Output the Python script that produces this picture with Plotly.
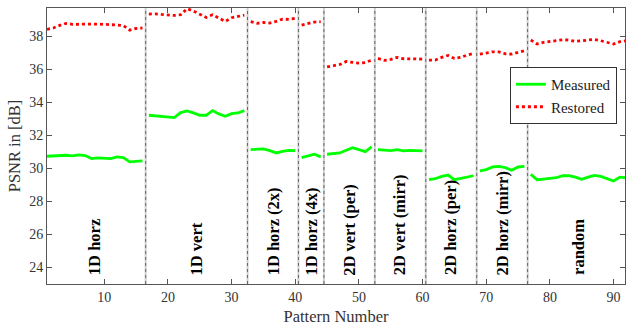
import plotly.graph_objects as go

# Segment definitions
seg_names = ["1D horz", "1D vert", "1D horz (2x)", "1D horz (4x)", "2D vert (per)",
             "2D vert (mirr)", "2D horz (per)", "2D horz (mirr)", "random"]
seg_sizes = [16, 16, 8, 4, 8, 8, 8, 8, 16]

measured = [
    [30.73, 30.75, 30.77, 30.79, 30.75, 30.81, 30.77, 30.59, 30.63, 30.59, 30.59, 30.69, 30.65, 30.39, 30.43, 30.45],
    [33.21, 33.17, 33.15, 33.11, 33.07, 33.37, 33.47, 33.35, 33.21, 33.21, 33.49, 33.29, 33.15, 33.31, 33.35, 33.49],
    [31.13, 31.15, 31.17, 31.07, 30.93, 31.03, 31.09, 31.07],
    [30.65, 30.75, 30.85, 30.69],
    [30.85, 30.89, 30.93, 31.09, 31.25, 31.13, 31.01, 31.29],
    [31.13, 31.09, 31.07, 31.13, 31.05, 31.09, 31.05, 31.05],
    [29.31, 29.37, 29.51, 29.59, 29.31, 29.39, 29.47, 29.55],
    [29.84, 29.92, 30.08, 30.12, 30.04, 29.88, 30.08, 30.12],
    [29.63, 29.31, 29.35, 29.39, 29.43, 29.55, 29.55, 29.47, 29.33, 29.47, 29.57, 29.51, 29.39, 29.23, 29.47, 29.43],
]
restored = [
    [38.41, 38.49, 38.65, 38.77, 38.71, 38.73, 38.75, 38.73, 38.73, 38.73, 38.69, 38.67, 38.63, 38.36, 38.46, 38.49],
    [39.33, 39.35, 39.31, 39.27, 39.25, 39.29, 39.66, 39.52, 39.31, 39.13, 39.29, 39.07, 38.89, 39.11, 39.17, 39.27],
    [38.87, 38.77, 38.83, 38.79, 38.89, 39.03, 39.01, 39.07],
    [38.67, 38.77, 38.85, 38.87],
    [36.14, 36.22, 36.28, 36.46, 36.42, 36.36, 36.40, 36.55],
    [36.65, 36.53, 36.59, 36.71, 36.63, 36.63, 36.63, 36.61],
    [36.55, 36.55, 36.71, 36.83, 36.65, 36.71, 36.85, 36.95],
    [36.91, 36.99, 37.05, 37.05, 36.93, 36.91, 37.01, 37.11],
    [37.76, 37.52, 37.62, 37.68, 37.74, 37.78, 37.76, 37.68, 37.72, 37.76, 37.80, 37.72, 37.64, 37.52, 37.66, 37.72],
]
x_ticks = [10, 20, 30, 40, 50, 60, 70, 80, 90]
y_ticks = [24, 26, 28, 30, 32, 34, 36, 38]

# Build x arrays with gaps between segments
xs, ym, yr = [], [], []
starts = []
n = 1
for size, m, r in zip(seg_sizes, measured, restored):
    starts.append(n)
    for k in range(size):
        xs.append(n + k)
        ym.append(m[k])
        yr.append(r[k])
    xs.append(None); ym.append(None); yr.append(None)
    n += size

FONT = "Liberation Serif"
fig = go.Figure()
fig.add_trace(go.Scatter(x=xs, y=ym, mode="lines", name="Measured",
                         line=dict(color="#00ff00", width=2.8), connectgaps=False))
fig.add_trace(go.Scatter(x=xs, y=yr, mode="lines", name="Restored",
                         line=dict(color="#ff0000", width=2.8, dash="dot"), connectgaps=False))

# separators
for s in starts[1:]:
    fig.add_shape(type="line", xref="x", yref="paper", x0=s - 0.5, x1=s - 0.5, y0=0, y1=1,
                  line=dict(color="#cfcfcf", width=2), layer="below")
    fig.add_shape(type="line", xref="x", yref="paper", x0=s - 0.5, x1=s - 0.5, y0=0, y1=1,
                  line=dict(color="#666666", width=1, dash="dot"), layer="below")

# segment labels
for name, s, size in zip(seg_names, starts, seg_sizes):
    fig.add_annotation(x=s + (size - 1) / 2, y=23.4, xref="x", yref="y", text="<b>%s</b>" % name,
                       textangle=-90, showarrow=False, yanchor="bottom", xanchor="center",
                       font=dict(family=FONT, size=16.5, color="black"))

fig.update_layout(
    width=626, height=326,
    margin=dict(l=47, r=1, t=8, b=42),
    paper_bgcolor="white", plot_bgcolor="white",
    font=dict(family=FONT, size=14, color="#333"),
    legend=dict(x=0.986, y=0.683, xanchor="right", yanchor="middle",
                bgcolor="white", bordercolor="#333", borderwidth=1,
                font=dict(family=FONT, size=15, color="#222"),
                tracegroupgap=0, itemwidth=30),
    showlegend=True,
)
fig.update_xaxes(range=[1, 91.8], tickvals=x_ticks, ticks="inside", ticklen=5, tickcolor="#555",
                 showline=True, linecolor="#555", linewidth=1, mirror="allticks", showgrid=False,
                 zeroline=False, tickfont=dict(family=FONT, size=14, color="#333"),
                 title=dict(text="Pattern Number", font=dict(family=FONT, size=16.5, color="#333"), standoff=8))
fig.update_yaxes(range=[23, 39.7], tickvals=y_ticks, ticks="inside", ticklen=5, tickcolor="#555",
                 showline=True, linecolor="#555", linewidth=1, mirror="allticks", showgrid=False,
                 zeroline=False, tickfont=dict(family=FONT, size=14, color="#333"),
                 title=dict(text="PSNR in [dB]", font=dict(family=FONT, size=16.5, color="#333"), standoff=4))

fig.write_html("out.html")
